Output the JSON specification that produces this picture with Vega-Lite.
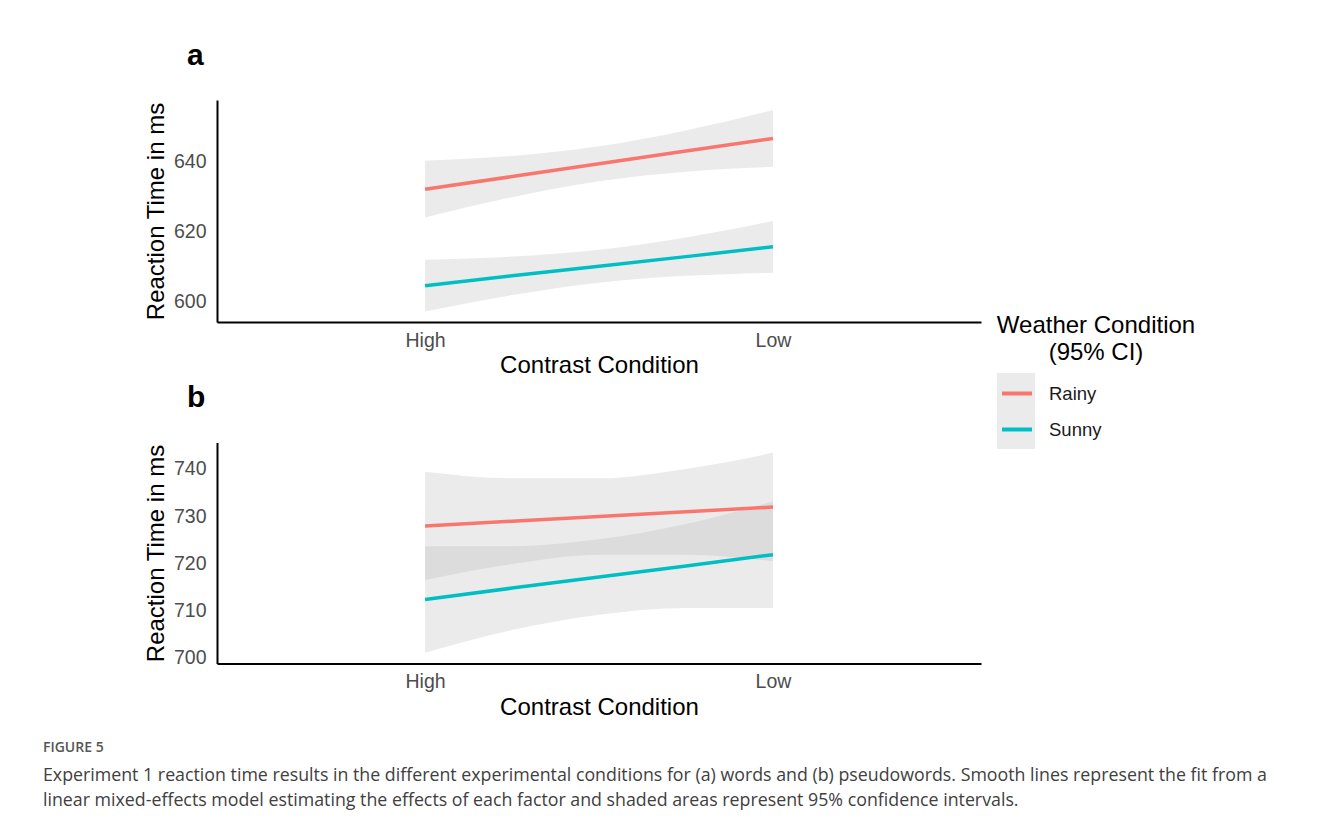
{
  "$schema": "https://vega.github.io/schema/vega-lite/v6.json",
  "background": "white",
  "padding": {"left": 42, "top": 40, "right": 5, "bottom": 5},
  "config": {
    "font": "Liberation Sans",
    "view": {"stroke": null},
    "axis": {"grid": false, "ticks": false, "domainColor": "black", "domainWidth": 2, "labelColor": "#4d4d4d", "labelFontSize": 19.5, "titleFontSize": 24, "titleFontWeight": "normal", "titleColor": "black", "labelFont": "Liberation Sans", "titleFont": "Liberation Sans"}
  },
  "datasets": {
    "fits": [
      {"panel": "a", "Weather": "Rainy", "t": 0, "fit": 632.0, "lo": 623.9, "hi": 640.1},
      {"panel": "a", "Weather": "Rainy", "t": 0.25, "fit": 635.6, "lo": 629.7, "hi": 641.5},
      {"panel": "a", "Weather": "Rainy", "t": 0.5, "fit": 639.25, "lo": 634.25, "hi": 644.25},
      {"panel": "a", "Weather": "Rainy", "t": 0.75, "fit": 642.9, "lo": 637.0, "hi": 648.8},
      {"panel": "a", "Weather": "Rainy", "t": 1, "fit": 646.5, "lo": 638.4, "hi": 654.6},
      {"panel": "a", "Weather": "Sunny", "t": 0, "fit": 604.4, "lo": 597.0, "hi": 611.8},
      {"panel": "a", "Weather": "Sunny", "t": 0.25, "fit": 607.2, "lo": 601.7, "hi": 612.7},
      {"panel": "a", "Weather": "Sunny", "t": 0.5, "fit": 609.95, "lo": 605.25, "hi": 614.65},
      {"panel": "a", "Weather": "Sunny", "t": 0.75, "fit": 612.7, "lo": 607.2, "hi": 618.2},
      {"panel": "a", "Weather": "Sunny", "t": 1, "fit": 615.5, "lo": 608.1, "hi": 622.9},
      {"panel": "b", "Weather": "Rainy", "t": 0, "fit": 727.9, "lo": 716.4, "hi": 739.4},
      {"panel": "b", "Weather": "Rainy", "t": 0.25, "fit": 728.9, "lo": 719.8, "hi": 738.0},
      {"panel": "b", "Weather": "Rainy", "t": 0.5, "fit": 729.9, "lo": 721.8, "hi": 738.0},
      {"panel": "b", "Weather": "Rainy", "t": 0.75, "fit": 730.9, "lo": 721.8, "hi": 740.0},
      {"panel": "b", "Weather": "Rainy", "t": 1, "fit": 731.9, "lo": 720.4, "hi": 743.4},
      {"panel": "b", "Weather": "Sunny", "t": 0, "fit": 712.3, "lo": 701.0, "hi": 723.6},
      {"panel": "b", "Weather": "Sunny", "t": 0.25, "fit": 714.7, "lo": 705.8, "hi": 723.6},
      {"panel": "b", "Weather": "Sunny", "t": 0.5, "fit": 717.05, "lo": 709.05, "hi": 725.05},
      {"panel": "b", "Weather": "Sunny", "t": 0.75, "fit": 719.4, "lo": 710.5, "hi": 728.3},
      {"panel": "b", "Weather": "Sunny", "t": 1, "fit": 721.8, "lo": 710.5, "hi": 733.1}
    ]
  },
  "data": {"name": "fits"},
  "title": {
    "text": "FIGURE 5",
    "subtitle": ["Experiment 1 reaction time results in the different experimental conditions for (a) words and (b) pseudowords. Smooth lines represent the fit from a", "linear mixed-effects model estimating the effects of each factor and shaded areas represent 95% confidence intervals."],
    "orient": "bottom",
    "anchor": "start",
    "frame": "bounds",
    "dx": -101.5,
    "offset": 22,
    "font": "Open Sans",
    "fontSize": 14,
    "fontWeight": 600,
    "color": "#555555",
    "subtitleFont": "Open Sans",
    "subtitleFontSize": 17.8,
    "subtitleColor": "#404040",
    "subtitleLineHeight": 25,
    "subtitlePadding": 12
  },
  "spacing": 4.5,
  "vconcat": [
    {
      "width": 764,
      "height": 222,
      "title": {"text": "a", "anchor": "start", "frame": "group", "dx": -30, "fontSize": 30, "fontWeight": "bold", "color": "black", "offset": 29.5},
      "transform": [{"filter": "datum.panel == 'a'"}],
      "layer": [
        {
          "mark": {"type": "area", "interpolate": "monotone", "fillOpacity": 0.25},
          "encoding": {
            "x": {"field": "t", "type": "quantitative", "title": "Contrast Condition", "scale": {"domain": [-0.598, 1.598], "nice": false}, "axis": {"values": [0, 1], "labelExpr": "datum.value == 0 ? 'High' : 'Low'", "labelPadding": 9, "titlePadding": 4}},
            "y": {"field": "lo", "type": "quantitative", "title": "Reaction Time in ms", "scale": {"domain": [594, 657.5], "nice": false, "zero": false}, "axis": {"values": [600, 620, 640], "labelPadding": 11, "titlePadding": 5}},
            "y2": {"field": "hi"},
            "detail": {"field": "Weather"},
            "fill": {"field": "Weather", "type": "nominal", "scale": {"domain": ["Rainy", "Sunny"], "range": ["#afafaf", "#afafaf"]},
              "legend": {"orient": "none", "legendX": 780, "legendY": 273, "title": null, "symbolType": "square", "symbolSize": 1444, "labelExpr": "''", "labelFontSize": 1, "labelOffset": 0, "rowPadding": 0, "symbolStrokeWidth": 0, "symbolOpacity": 0.25, "zindex": 0}}
          }
        },
        {
          "mark": {"type": "line", "strokeWidth": 3.5},
          "encoding": {
            "x": {"field": "t", "type": "quantitative"},
            "y": {"field": "fit", "type": "quantitative"},
            "stroke": {"field": "Weather", "type": "nominal", "scale": {"range": ["#F8766D", "#00BFC4"]},
              "legend": {"orient": "none", "legendX": 780, "legendY": 213.5, "title": ["Weather Condition", "(95% CI)"], "titleFontSize": 24, "titleFontWeight": "normal", "titleColor": "black", "titleAlign": "center", "titleAnchor": "middle", "titleLimit": 400, "titleLineHeight": 27, "titlePadding": 12, "symbolType": "stroke", "symbolSize": 900, "symbolStrokeWidth": 4, "symbolOffset": -91, "labelFontSize": 18.5, "labelColor": "#1a1a1a", "labelOffset": 15, "rowPadding": 9, "zindex": 1}}
          }
        }
      ]
    },
    {
      "width": 764,
      "height": 221,
      "title": {"text": "b", "anchor": "start", "frame": "group", "dx": -30, "fontSize": 30, "fontWeight": "bold", "color": "black", "offset": 29.5},
      "transform": [{"filter": "datum.panel == 'b'"}],
      "layer": [
        {
          "mark": {"type": "area", "interpolate": "monotone", "fillOpacity": 0.25},
          "encoding": {
            "x": {"field": "t", "type": "quantitative", "title": "Contrast Condition", "scale": {"domain": [-0.598, 1.598], "nice": false}, "axis": {"values": [0, 1], "labelExpr": "datum.value == 0 ? 'High' : 'Low'", "labelPadding": 9, "titlePadding": 4}},
            "y": {"field": "lo", "type": "quantitative", "title": "Reaction Time in ms", "scale": {"domain": [698.7, 745.6], "nice": false, "zero": false}, "axis": {"values": [700, 710, 720, 730, 740], "labelPadding": 11, "titlePadding": 5}},
            "y2": {"field": "hi"},
            "detail": {"field": "Weather"},
            "fill": {"field": "Weather", "type": "nominal"}
          }
        },
        {
          "mark": {"type": "line", "strokeWidth": 3.5},
          "encoding": {
            "x": {"field": "t", "type": "quantitative"},
            "y": {"field": "fit", "type": "quantitative"},
            "stroke": {"field": "Weather", "type": "nominal"}
          }
        }
      ]
    }
  ]
}
